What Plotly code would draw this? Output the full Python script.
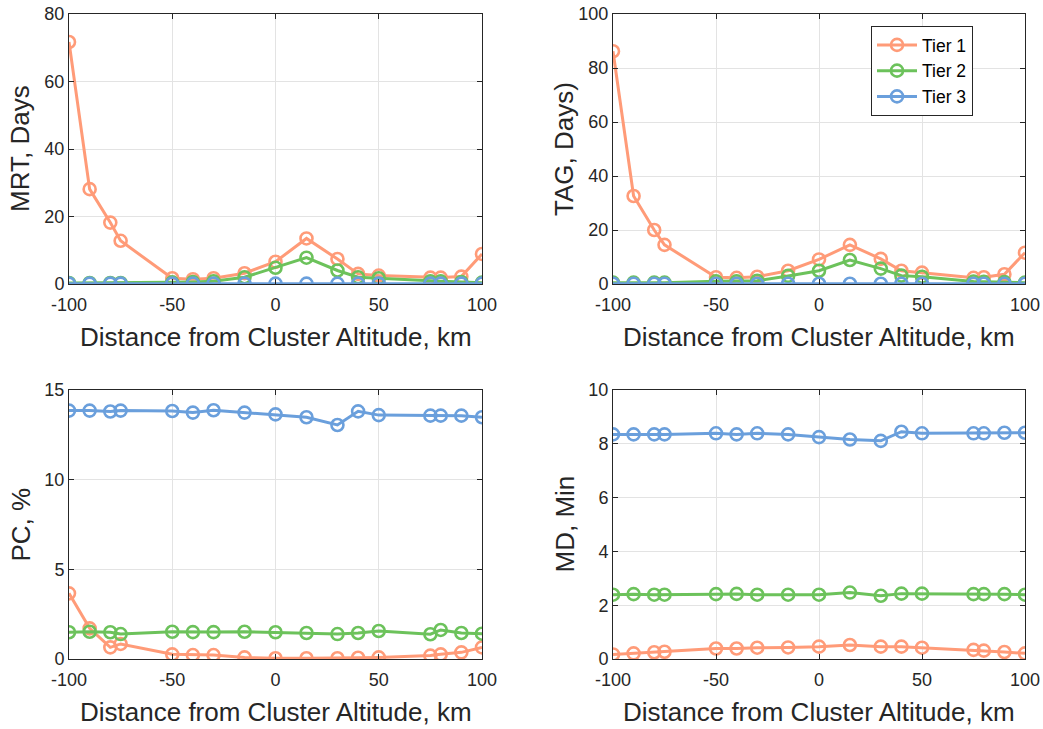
import plotly.graph_objects as go

distance_km = [-100, -90, -80, -75, -50, -40, -30, -15, 0, 15, 30, 40, 50, 75, 80, 90, 100]
tier_names = ["Tier 1", "Tier 2", "Tier 3"]

mrt_tier1 = [71.7, 28.1, 18.2, 12.8, 1.7, 1.4, 1.7, 3.2, 6.6, 13.5, 7.4, 3.0, 2.5, 1.9, 1.9, 2.2, 8.9]
mrt_tier2 = [0.3, 0.3, 0.3, 0.3, 0.5, 0.6, 0.8, 2.0, 4.8, 7.8, 4.0, 2.0, 1.7, 0.8, 0.8, 0.6, 0.4]
mrt_tier3 = [0.1] * 17

tag_tier1 = [86.2, 32.6, 20.0, 14.5, 2.5, 2.3, 2.7, 4.9, 9.1, 14.5, 9.3, 4.9, 4.2, 2.3, 2.5, 3.6, 11.6]
tag_tier2 = [0.5, 0.5, 0.5, 0.5, 1.0, 1.0, 1.2, 3.0, 4.9, 8.9, 5.7, 3.1, 2.7, 0.9, 0.8, 0.7, 0.5]
tag_tier3 = [0.1] * 17

pc_tier1 = [3.66, 1.71, 0.65, 0.84, 0.26, 0.22, 0.22, 0.09, 0.04, 0.04, 0.04, 0.07, 0.09, 0.19, 0.26, 0.37, 0.65]
pc_tier2 = [1.49, 1.52, 1.49, 1.39, 1.52, 1.50, 1.50, 1.52, 1.49, 1.45, 1.39, 1.45, 1.56, 1.38, 1.62, 1.45, 1.41]
pc_tier3 = [13.85, 13.85, 13.80, 13.85, 13.83, 13.74, 13.87, 13.74, 13.64, 13.48, 13.05, 13.81, 13.60, 13.57, 13.57, 13.57, 13.48]

md_tier1 = [0.17, 0.21, 0.25, 0.27, 0.39, 0.39, 0.42, 0.43, 0.46, 0.52, 0.46, 0.46, 0.42, 0.34, 0.31, 0.26, 0.21]
md_tier2 = [2.39, 2.41, 2.39, 2.39, 2.41, 2.42, 2.39, 2.39, 2.39, 2.47, 2.35, 2.43, 2.43, 2.41, 2.41, 2.41, 2.39]
md_tier3 = [8.35, 8.35, 8.35, 8.35, 8.39, 8.35, 8.39, 8.35, 8.25, 8.16, 8.11, 8.45, 8.39, 8.39, 8.39, 8.41, 8.41]

x_tickvals = [-100, -50, 0, 50, 100]
x_ticktext = ["-100", "-50", "0", "50", "100"]
x_title = "Distance from Cluster Altitude, km"

panels = [
    dict(title="MRT, Days", data=[mrt_tier1, mrt_tier2, mrt_tier3], yr=[0, 80], yt=[0, 20, 40, 60, 80]),
    dict(title="TAG, Days)", data=[tag_tier1, tag_tier2, tag_tier3], yr=[0, 100], yt=[0, 20, 40, 60, 80, 100]),
    dict(title="PC, %", data=[pc_tier1, pc_tier2, pc_tier3], yr=[0, 15], yt=[0, 5, 10, 15]),
    dict(title="MD, Min", data=[md_tier1, md_tier2, md_tier3], yr=[0, 10], yt=[0, 2, 4, 6, 8, 10]),
]

colors = ["#FF9B78", "#6CC25B", "#6A9FDC"]

W, H = 1043, 729
boxes = [  # left, right, top, bottom in px
    (69, 482, 14, 284),
    (613, 1025, 14, 284),
    (69, 482, 390, 659),
    (613, 1025, 390, 659),
]


def fx(px):
    return px / W


def fy(py):
    return 1 - py / H


fig = go.Figure()
font_family = "Liberation Sans, Arial, sans-serif"
txt = "#262626"

for i, p in enumerate(panels):
    n = "" if i == 0 else str(i + 1)
    for t in range(3):
        fig.add_trace(go.Scatter(
            x=distance_km, y=p["data"][t], mode="lines+markers",
            name=tier_names[t], showlegend=(i == 1),
            line=dict(color=colors[t], width=3),
            marker=dict(symbol="circle-open", size=12, color=colors[t], line=dict(width=2.6, color=colors[t])),
            xaxis="x" + n, yaxis="y" + n,
        ))
    l, r, tp, bt = boxes[i]
    axcommon = dict(showline=True, linecolor=txt, linewidth=1, mirror="ticks",
                    ticks="inside", ticklen=5, tickcolor=txt, automargin=False,
                    ticklabeloverflow="allow",
                    showgrid=True, gridcolor="#E3E3E3", gridwidth=1, zeroline=False,
                    tickfont=dict(size=18, color=txt, family=font_family))
    fig.layout["xaxis" + n] = dict(
        domain=[fx(l), fx(r)], anchor="y" + n, range=[-100, 100],
        tickvals=x_tickvals, ticktext=x_ticktext, ticklabelstandoff=4,
        **axcommon)
    fig.layout["yaxis" + n] = dict(
        domain=[fy(bt), fy(tp)], anchor="x" + n, range=p["yr"],
        tickvals=p["yt"],
        **axcommon)
    fig.add_annotation(text=x_title, x=fx((l + r) / 2), y=fy(bt + 53),
                       xref="paper", yref="paper", showarrow=False,
                       xanchor="center", yanchor="middle",
                       font=dict(size=26, color=txt, family=font_family))
    fig.add_annotation(text=p["title"], x=fx(l - 49), y=fy((tp + bt) / 2),
                       xref="paper", yref="paper", showarrow=False, textangle=-90,
                       xanchor="center", yanchor="middle",
                       font=dict(size=26, color=txt, family=font_family))

fig.update_layout(
    width=W, height=H,
    margin=dict(l=0, r=0, t=0, b=0),
    paper_bgcolor="white", plot_bgcolor="white",
    legend=dict(x=fx(871), y=fy(26), xanchor="left", yanchor="top",
                bgcolor="white", bordercolor=txt, borderwidth=1,
                font=dict(size=17.5, color="black", family=font_family),
                tracegroupgap=0, itemwidth=40),
)

fig.write_html("out.html", config={"displayModeBar": False},
               post_script="document.body.style.margin='0';document.body.style.overflow='hidden';")
